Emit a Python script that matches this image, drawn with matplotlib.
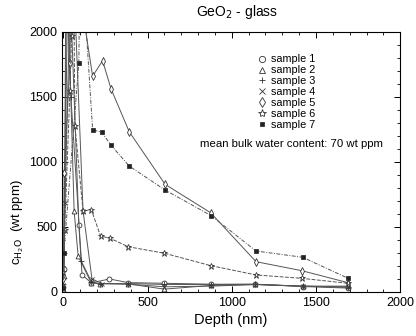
import matplotlib
matplotlib.use("Agg")
import matplotlib.pyplot as plt
from matplotlib.ticker import MultipleLocator
from matplotlib.lines import Line2D

plt.rcParams['font.family'] = ['Liberation Sans', 'DejaVu Sans']

# depth (nm) and water concentration (wt ppm) per sample
s1_x = [0, 2, 30, 92, 111, 166, 274, 385, 600, 874, 1140, 1420, 1690]
s1_y = [40, 180, 2700, 518, 133, 70, 100, 72, 67, 60, 59, 42, 30]
s2_x = [0, 4, 20, 64, 88, 166, 215, 385, 600, 874, 1140, 1420, 1690]
s2_y = [20, 120, 2600, 623, 277, 69, 64, 62, 22, 50, 58, 45, 45]
s3_x = [0, 6, 15, 45, 107, 166, 215, 385, 600, 874, 1140, 1420, 1690]
s3_y = [60, 300, 2500, 1500, 238, 80, 64, 65, 58, 57, 60, 44, 40]
s4_x = [0, 10, 50, 117, 170, 230, 385, 600, 874, 1140, 1420, 1690]
s4_y = [50, 685, 2800, 623, 100, 65, 60, 40, 45, 57, 45, 35]
s5_x = [0, 5, 39, 50, 174, 233, 283, 391, 604, 874, 1144, 1415, 1689]
s5_y = [100, 915, 1761, 2700, 1659, 1779, 1563, 1233, 828, 610, 233, 164, 72]
s6_x = [0, 8, 39, 49, 60, 69, 117, 166, 221, 278, 385, 600, 874, 1144, 1415, 1689]
s6_y = [150, 479, 1543, 1966, 2600, 1274, 623, 633, 430, 413, 348, 298, 203, 131, 105, 67]
s7_x = [0, 3, 92, 100, 174, 229, 282, 391, 604, 878, 1144, 1421, 1691]
s7_y = [30, 300, 1761, 2750, 1246, 1228, 1130, 969, 784, 587, 315, 267, 105]

labels = ["sample 1", "sample 2", "sample 3", "sample 4", "sample 5", "sample 6", "sample 7"]

fig = plt.figure(figsize=(4.16, 3.36), dpi=100)
ax = fig.add_axes([0.149, 0.131, 0.813, 0.774])

series = [
    (s1_x, s1_y, 'o', 'white', '-', 3.5),
    (s2_x, s2_y, '^', 'white', '-', 3.5),
    (s3_x, s3_y, '+', 'white', '-', 4.0),
    (s4_x, s4_y, 'x', 'white', '-', 3.5),
    (s5_x, s5_y, 'd', 'white', '-', 4.0),
    (s6_x, s6_y, '*', 'white', (0, (4, 1.5)), 5.0),
    (s7_x, s7_y, 's', '#222222', (0, (4, 1.5, 1, 1.5)), 2.5),
]
lc = '#555555'
for (x, y, m, fc, ls, ms) in series:
    ax.plot(x, y, linestyle=ls, color=lc, linewidth=0.7, marker=m,
            markersize=ms, markerfacecolor=fc, markeredgecolor='#333333',
            markeredgewidth=0.6, clip_on=True)

handles = []
for (x, y, m, fc, ls, ms), lab in zip(series, labels):
    handles.append(Line2D([], [], linestyle='none', marker=m, markersize=ms + 1,
                          markerfacecolor=fc, markeredgecolor='#333333',
                          markeredgewidth=0.6, label=lab))
ax.legend(handles=handles, loc='upper left', bbox_to_anchor=(0.56, 0.93),
          frameon=False, fontsize=7.8, handletextpad=0.25, labelspacing=0.08,
          handlelength=1.2, borderaxespad=0)

ax.text(0.68, 0.57, "mean bulk water content: 70 wt ppm", transform=ax.transAxes,
        ha='center', va='center', fontsize=8.2)

ax.set_xlim(-8, 2000)
ax.set_ylim(0, 2000)
ax.xaxis.set_major_locator(MultipleLocator(500))
ax.xaxis.set_minor_locator(MultipleLocator(100))
ax.yaxis.set_major_locator(MultipleLocator(500))
ax.yaxis.set_minor_locator(MultipleLocator(100))
ax.tick_params(which='both', direction='in', top=True, right=True, labelsize=9)
ax.tick_params(which='major', length=4, width=0.7)
ax.tick_params(which='minor', length=2, width=0.6)
for sp in ax.spines.values():
    sp.set_linewidth(0.8)

ax.set_xlabel("Depth (nm)", fontsize=10.5, labelpad=3)
ax.set_ylabel(r"c$_{\mathrm{H_2O}}$  (wt ppm)", fontsize=9.5)
ax.yaxis.set_label_coords(-0.105, 0.27)
fig.text(0.57, 0.963, r"GeO$_2$ - glass", ha='center', va='center', fontsize=10)

fig.savefig("out.png", dpi=100)
